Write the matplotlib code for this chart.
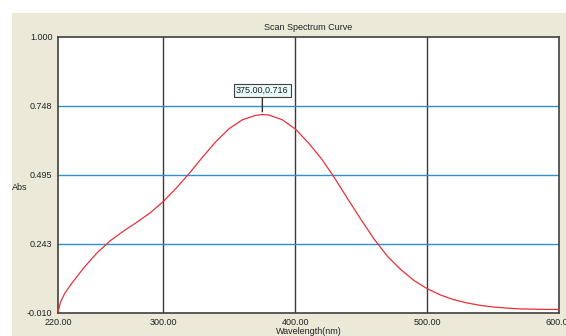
import matplotlib
matplotlib.use("Agg")
import matplotlib.pyplot as plt
from matplotlib.patches import Rectangle

wavelength = [220, 222, 225, 230, 240, 250, 260, 270, 280, 290, 300, 310, 320, 330, 340,
              350, 360, 370, 375, 380, 390, 400, 410, 420, 430, 440, 450, 460, 470,
              480, 490, 500, 510, 520, 530, 540, 550, 560, 570, 580, 590, 600]
absorbance = [-0.008, 0.030, 0.060, 0.095, 0.157, 0.211, 0.255, 0.290, 0.322, 0.356, 0.398,
              0.448, 0.503, 0.562, 0.618, 0.665, 0.697, 0.713, 0.716, 0.714, 0.697,
              0.663, 0.612, 0.553, 0.482, 0.405, 0.330, 0.258, 0.196, 0.148, 0.108,
              0.078, 0.055, 0.038, 0.026, 0.017, 0.011, 0.007, 0.004, 0.003, 0.002, 0.002]
x_ticks = [220, 300, 400, 500, 600]
x_tick_labels = ["220.00", "300.00", "400.00", "500.00", "600.00"]
y_ticks = [-0.010, 0.243, 0.495, 0.748, 1.000]
y_tick_labels = ["-0.010", "0.243", "0.495", "0.748", "1.000"]
peak_x, peak_y = 375.00, 0.716

plt.rcParams['font.family'] = ['Liberation Sans', 'DejaVu Sans']
W, H = 566, 336
fig = plt.figure(figsize=(W / 100, H / 100), dpi=100, facecolor='white')
fig.patches.append(Rectangle((12 / W, 0), 1 - 12 / W, 1 - 13 / H,
                             transform=fig.transFigure, facecolor='#ECE9D8',
                             edgecolor='none', zorder=-10))

ax = fig.add_axes([58 / W, 1 - 312.7 / H, (559 - 58) / W, (312.7 - 37) / H])
ax.set_facecolor('white')
ax.set_xlim(220, 600)
ax.set_ylim(-0.010, 1.000)

for xv in x_ticks[1:-1]:
    ax.axvline(xv, color='#3a3a3a', lw=1.0, zorder=1)
for yv in y_ticks[1:-1]:
    ax.axhline(yv, color='#2E8FD8', lw=1.0, zorder=1)

ax.plot(wavelength, absorbance, color='#E8303A', lw=0.9, zorder=3)

ax.set_xticks(x_ticks)
ax.set_xticklabels(x_tick_labels)
ax.set_yticks(y_ticks)
ax.set_yticklabels(y_tick_labels)
ax.tick_params(axis='both', length=0, labelsize=6.5, labelcolor='#222222')
ax.tick_params(axis='x', pad=4)
ax.tick_params(axis='y', pad=4)
for s in ax.spines.values():
    s.set_color('#404040')
    s.set_linewidth(1.2)

fig.text(308.5 / W, 1 - 28 / H, "Scan Spectrum Curve", ha='center', va='center',
         fontsize=6.5, color='#222222')
fig.text(20 / W, 1 - 187 / H, "Abs", ha='center', va='center', fontsize=6.5,
         color='#222222')
fig.text(309 / W, 1 - 331.5 / H, "Wavelength(nm)", ha='center', va='center',
         fontsize=6.5, color='#222222')

ax.annotate(f"{peak_x:.2f},{peak_y:.3f}", xy=(peak_x, peak_y + 0.01),
            xytext=(0, 12), textcoords='offset points', ha='center', va='bottom',
            fontsize=6.5, color='#222222',
            bbox=dict(boxstyle='square,pad=0.25', facecolor='#E8FAFA',
                      edgecolor='#404040', lw=0.8),
            arrowprops=dict(arrowstyle='-', color='#303030', lw=1.0,
                            shrinkA=0, shrinkB=0), zorder=5)

fig.savefig("out.png", dpi=100, facecolor='white')
